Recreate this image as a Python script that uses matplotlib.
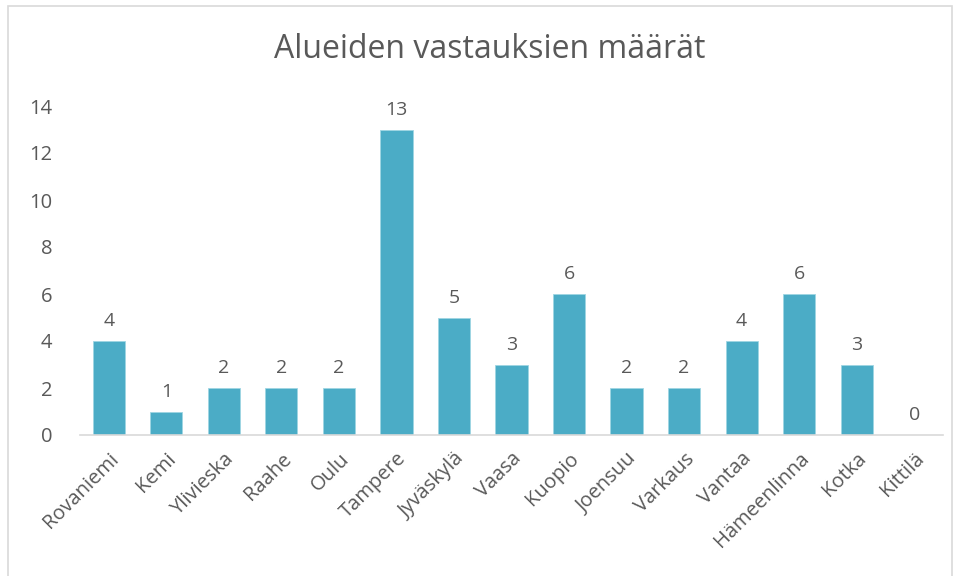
import matplotlib.pyplot as plt
from matplotlib.patches import Rectangle

# Data
areas = ['Rovaniemi', 'Kemi', 'Ylivieska', 'Raahe', 'Oulu', 'Tampere', 'Jyväskylä',
         'Vaasa', 'Kuopio', 'Joensuu', 'Varkaus', 'Vantaa', 'Hämeenlinna', 'Kotka', 'Kittilä']
counts = [4, 1, 2, 2, 2, 13, 5, 3, 6, 2, 2, 4, 6, 3, 0]
yticks = [0, 2, 4, 6, 8, 10, 12, 14]

plt.rcParams['font.family'] = ['Open Sans', 'DejaVu Sans']
text_color = '#595959'

fig = plt.figure(figsize=(9.59, 5.76), dpi=100)
fig.patches.append(Rectangle((8 / 959, -4 / 576), 944 / 959, 574 / 576, transform=fig.transFigure,
                             fill=False, edgecolor='#d9d9d9', linewidth=1.2))

ax = fig.add_axes([80 / 959, 141 / 576, 863 / 959, 329 / 576])
x = range(len(areas))
ax.bar(x, counts, width=0.56, color='#4BACC6', edgecolor='#9fd6e3', linewidth=0.6)

for xi, v in zip(x, counts):
    ax.text(xi, v + 0.45, str(v), ha='center', va='bottom', fontsize=14, color=text_color)

ax.set_xlim(-0.5, len(areas) - 0.5)
ax.set_ylim(0, 14)
ax.set_yticks(yticks)
ax.set_xticks(list(x))
ax.set_xticklabels(areas, rotation=45, ha='right', rotation_mode='anchor')
ax.tick_params(axis='both', length=0, labelsize=14.5, colors=text_color)
ax.tick_params(axis='y', pad=20)
ax.tick_params(axis='x', pad=10)

for side in ['top', 'right', 'left']:
    ax.spines[side].set_visible(False)
ax.spines['bottom'].set_color('#d9d9d9')
ax.spines['bottom'].set_linewidth(1.2)

fig.text(490 / 959, 1 - 50 / 576, 'Alueiden vastauksien määrät', ha='center', va='center',
         fontsize=23, color=text_color)

plt.savefig('out.png', dpi=100)
